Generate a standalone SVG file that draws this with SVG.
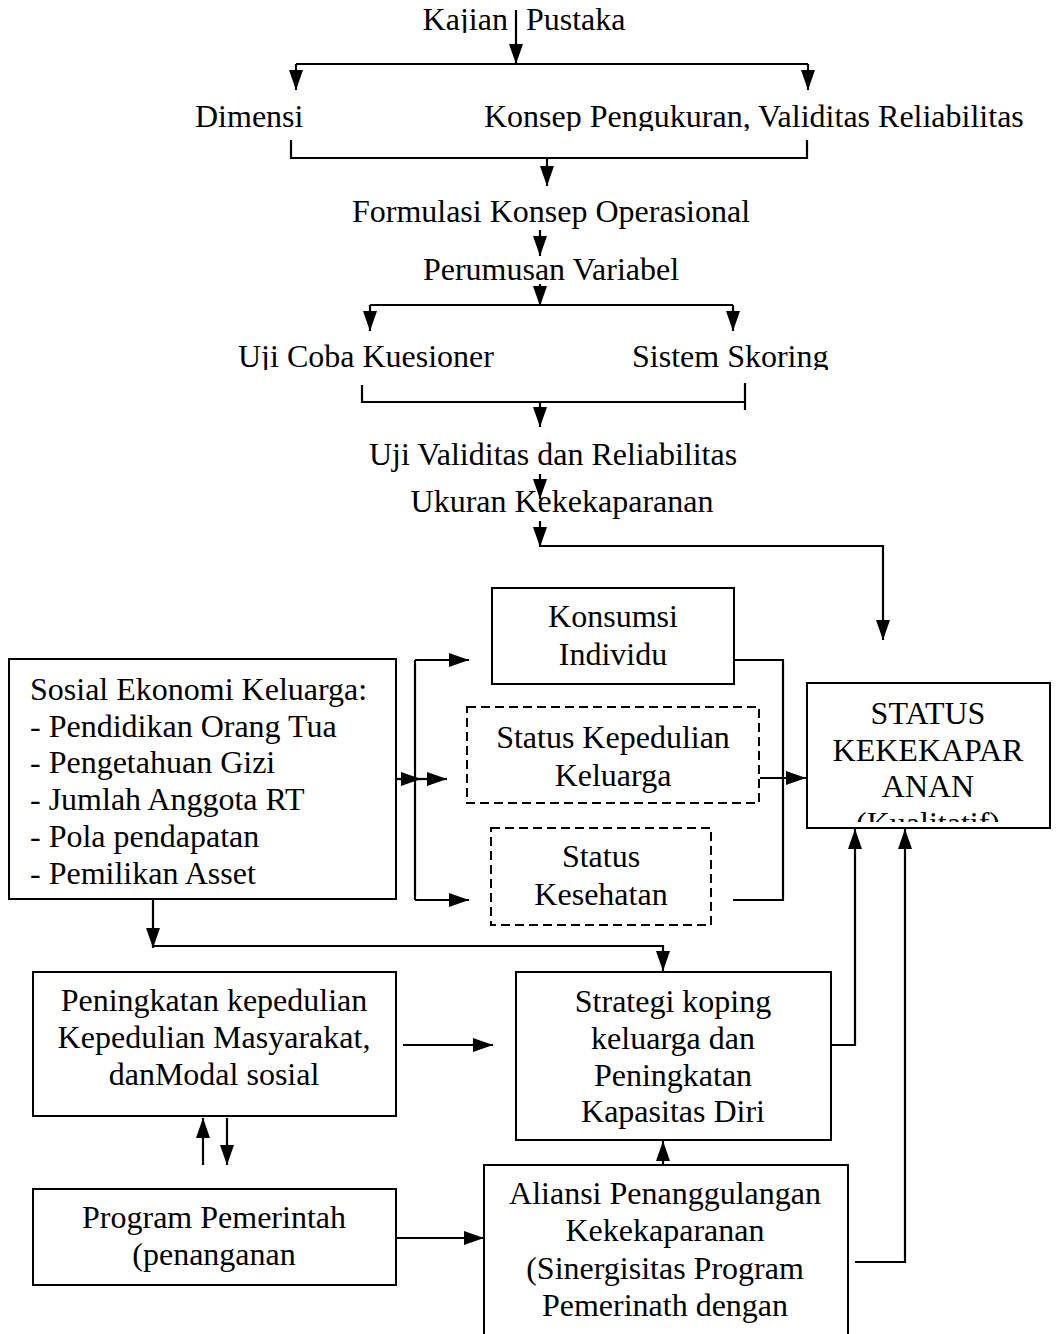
<svg xmlns="http://www.w3.org/2000/svg" width="1058" height="1334" viewBox="0 0 1058 1334">
<style>
text{font-family:"Liberation Serif","Times New Roman",serif;font-size:32px;fill:#000}
.c{text-anchor:middle}
.box{fill:none;stroke:#000;stroke-width:2}
.dash{fill:none;stroke:#000;stroke-width:2;stroke-dasharray:9 5}
.ln{fill:none;stroke:#000;stroke-width:2.2}
</style>
<defs>
<marker id="ah" markerUnits="userSpaceOnUse" markerWidth="20" markerHeight="14" refX="20" refY="7" orient="auto">
<path d="M0,0 L20,7 L0,14 Z" fill="#000"/>
</marker>
<clipPath id="clipTop"><rect x="0" y="0" width="1058" height="33"/></clipPath>
<clipPath id="clipRow2"><rect x="0" y="90" width="1058" height="41"/></clipPath>
<clipPath id="clipRow3"><rect x="0" y="335" width="1058" height="35"/></clipPath>
<clipPath id="clipStatus"><rect x="808" y="684" width="241" height="138"/></clipPath>
</defs>
<rect width="1058" height="1334" fill="#fff"/>

<g id="n-kajian"><text x="524" y="30" class="c" clip-path="url(#clipTop)">Kajian<tspan dx="18">Pustaka</tspan></text></g>
<g id="n-dimensi"><text x="195" y="127" clip-path="url(#clipRow2)">Dimensi</text></g>
<g id="n-konsep"><text x="484" y="127" clip-path="url(#clipRow2)">Konsep Pengukuran, Validitas Reliabilitas</text></g>
<g id="n-formulasi"><text x="551" y="222" class="c">Formulasi Konsep Operasional</text></g>
<g id="n-perumusan"><text x="551" y="280" class="c">Perumusan Variabel</text></g>
<g id="n-ujicoba"><text x="238" y="367" clip-path="url(#clipRow3)">Uji Coba Kuesioner</text></g>
<g id="n-skoring"><text x="632" y="367" clip-path="url(#clipRow3)">Sistem Skoring</text></g>
<g id="n-ujivaliditas"><text x="553" y="465" class="c">Uji Validitas dan Reliabilitas</text></g>
<g id="n-ukuran"><text x="562" y="512" class="c">Ukuran Kekekaparanan</text></g>

<g id="n-konsumsi"><rect class="box" x="492" y="588" width="242" height="96"/>
<text x="613" y="627" class="c">Konsumsi</text><text x="613" y="665" class="c">Individu</text></g>
<g id="n-kepedulian"><rect class="dash" x="467" y="707" width="292" height="96"/>
<text x="613" y="748" class="c">Status Kepedulian</text><text x="613" y="786" class="c">Keluarga</text></g>
<g id="n-kesehatan"><rect class="dash" x="491" y="828" width="220" height="97"/>
<text x="601" y="867" class="c">Status</text><text x="601" y="905" class="c">Kesehatan</text></g>
<g id="n-sosial"><rect class="box" x="9" y="659" width="387" height="240"/>
<text x="30" y="700">Sosial Ekonomi Keluarga:</text>
<text x="30" y="737">- Pendidikan Orang Tua</text>
<text x="30" y="773">- Pengetahuan Gizi</text>
<text x="30" y="810">- Jumlah Anggota RT</text>
<text x="30" y="847">- Pola pendapatan</text>
<text x="30" y="884">- Pemilikan Asset</text></g>
<g id="n-status"><rect class="box" x="807" y="683" width="243" height="145"/>
<g clip-path="url(#clipStatus)">
<text x="928" y="724" class="c">STATUS</text><text x="928" y="761" class="c">KEKEKAPAR</text><text x="928" y="797" class="c">ANAN</text><text x="928" y="834" class="c">(Kualitatif)</text></g></g>

<g id="n-peningkatan"><rect class="box" x="33" y="972" width="363" height="144"/>
<text x="214" y="1011" class="c">Peningkatan kepedulian</text><text x="214" y="1048" class="c">Kepedulian Masyarakat,</text><text x="214" y="1085" class="c">danModal sosial</text></g>
<g id="n-strategi"><rect class="box" x="516" y="972" width="315" height="168"/>
<text x="673" y="1012" class="c">Strategi koping</text><text x="673" y="1049" class="c">keluarga dan</text><text x="673" y="1086" class="c">Peningkatan</text><text x="673" y="1122" class="c">Kapasitas Diri</text></g>
<g id="n-program"><rect class="box" x="33" y="1189" width="363" height="96"/>
<text x="214" y="1228" class="c">Program Pemerintah</text><text x="214" y="1265" class="c">(penanganan</text></g>
<g id="n-aliansi"><rect class="box" x="484" y="1165" width="364" height="170"/>
<text x="665" y="1204" class="c">Aliansi Penanggulangan</text><text x="665" y="1241" class="c">Kekekaparanan</text><text x="665" y="1279" class="c">(Sinergisitas Program</text><text x="665" y="1316" class="c">Pemerinath dengan</text></g>

<g id="connectors">
<path class="ln" d="M516,10 V64" marker-end="url(#ah)"/>
<path class="ln" d="M296,64 H808"/>
<path class="ln" d="M296,64 V90" marker-end="url(#ah)"/>
<path class="ln" d="M808,64 V90" marker-end="url(#ah)"/>
<path class="ln" d="M291,140 V158 H807 V140"/>
<path class="ln" d="M547,158 V186" marker-end="url(#ah)"/>
<path class="ln" d="M540,230 V256" marker-end="url(#ah)"/>
<path class="ln" d="M540,284 V306" marker-end="url(#ah)"/>
<path class="ln" d="M370,305 H733"/>
<path class="ln" d="M370,305 V331" marker-end="url(#ah)"/>
<path class="ln" d="M733,305 V331" marker-end="url(#ah)"/>
<path class="ln" d="M362,385 V402 H745"/>
<path class="ln" d="M745,383 V410"/>
<path class="ln" d="M540,402 V427" marker-end="url(#ah)"/>
<path class="ln" d="M540,474 V499" marker-end="url(#ah)"/>
<path class="ln" d="M540,521 V547" marker-end="url(#ah)"/>
<path class="ln" d="M540,546 H883 V640" marker-end="url(#ah)"/>
<path class="ln" d="M396,779 H421" marker-end="url(#ah)"/>
<path class="ln" d="M415,779 H447" marker-end="url(#ah)"/>
<path class="ln" d="M415,660 V900"/>
<path class="ln" d="M415,660 H469" marker-end="url(#ah)"/>
<path class="ln" d="M415,900 H469" marker-end="url(#ah)"/>
<path class="ln" d="M734,660 H783 V900 H733"/>
<path class="ln" d="M760,778 H806" marker-end="url(#ah)"/>
<path class="ln" d="M153,899 V948" marker-end="url(#ah)"/>
<path class="ln" d="M153,946 H663 V971" marker-end="url(#ah)"/>
<path class="ln" d="M403,1045 H493" marker-end="url(#ah)"/>
<path class="ln" d="M203,1165 V1118" marker-end="url(#ah)"/>
<path class="ln" d="M227,1118 V1165" marker-end="url(#ah)"/>
<path class="ln" d="M396,1238 H484" marker-end="url(#ah)"/>
<path class="ln" d="M663,1165 V1141" marker-end="url(#ah)"/>
<path class="ln" d="M831,1045 H855 V829" marker-end="url(#ah)"/>
<path class="ln" d="M855,1262 H905 V829" marker-end="url(#ah)"/>
</g>
</svg>
